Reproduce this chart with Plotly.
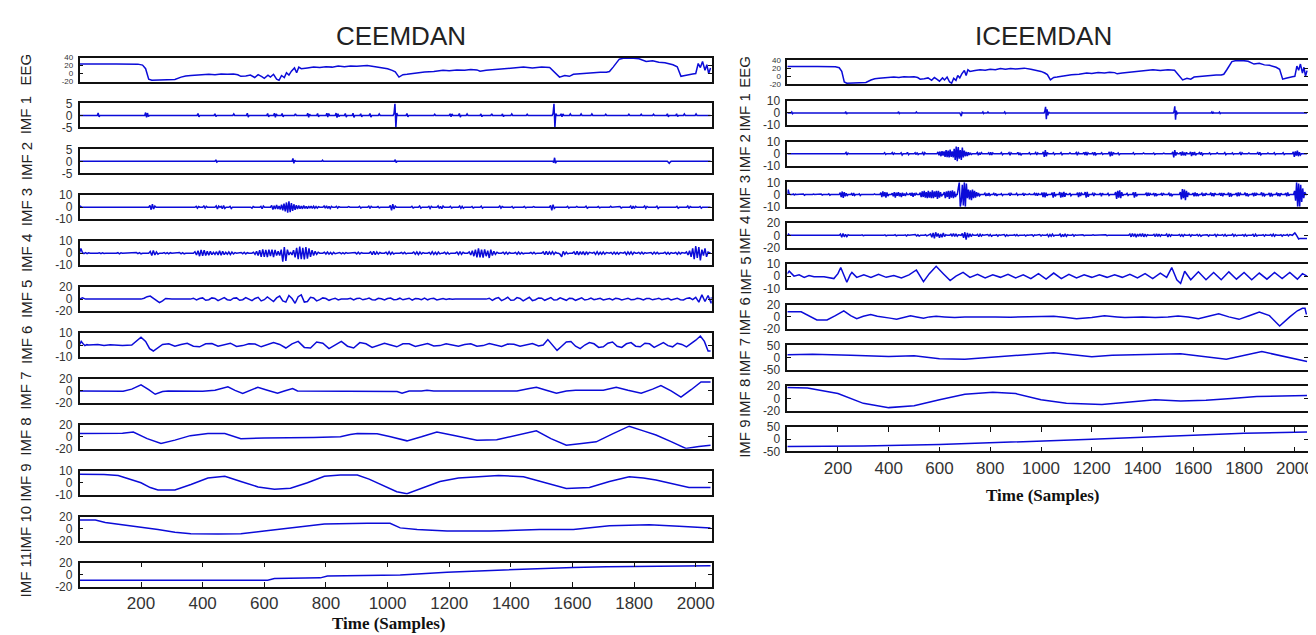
import plotly.graph_objects as go

# ---------------- DATA (sample index, value) ----------------
# Raw EEG, same recording shown in both columns
EEG = [(0,24),(60,24.5),(120,24),(190,23.5),(205,21),(215,12),(225,-14),(235,-17),(260,-16),(290,-16),(310,-15),
       (330,-9),(345,-6),(362,-5),(380,-4),(400,-4),(420,-2),(440,-3),(460,-1),(480,-2),(500,-1),(514,-3),(524,-7),
       (540,-6),(555,-4),(569,-10),(580,-3),(592,-8),(600,-12),(612,-4),(620,-9),(630,-2),(640,-14),(648,-17),(656,-5),
       (665,-10),(672,2),(680,-4),(688,6),(698,14),(705,2),(712,16),(720,12),(740,14),(760,16),(780,15),(800,17),
       (820,16),(840,19),(860,17),(880,19),(900,18),(934,20),(960,17),(980,15),(1000,12),(1015,8),(1025,4),(1037,-9),
       (1050,-3),(1063,-2),(1090,1),(1120,4),(1150,5),(1180,8),(1200,7),(1225,9),(1250,8),(1270,10),(1290,9),(1300,6),
       (1320,8),(1350,10),(1380,11),(1410,13),(1441,16),(1470,14),(1500,16),(1526,15),(1540,5),(1558,-9),(1575,-5),
       (1590,-7),(1603,-2),(1630,0),(1660,1),(1690,3),(1710,3),(1720,5),(1732,16),(1745,30),(1752,36),(1765,38),
       (1790,39),(1816,37),(1830,33),(1839,30),(1860,32),(1880,28),(1900,27),(1926,22),(1940,17),(1952,-7),(1965,-5),
       (1978,-2),(1990,-1),(2000,0),(2008,25),(2015,15),(2022,30),(2030,8),(2036,22),(2042,0),(2048,14)]

# CEEMDAN IMFs: bursts as (start sample, [values every STEP samples]) on a zero baseline
C_IMF1_STEP = 3
C_IMF1 = [(58,[0,1,-0.6,0]),(212,[0,1.2,-0.8,1,-0.5,0]),(382,[0,0.8,-0.6,0]),(437,[0,0.7,-0.5,0]),(498,[0,0.6,0]),
          (542,[0,0.9,-0.7,0]),(608,[0,0.8,-0.6,0]),(630,[0,0.9,-0.8,0.6,0]),(655,[0,0.8,-0.6,0]),(698,[0,0.7,0]),
          (738,[0,0.9,-0.8,0.5,0]),(770,[0,0.8,-0.6,0]),(800,[0,0.9,-0.7,0.8,0]),(830,[0,1,-0.9,0.7,-0.5,0]),
          (860,[0,0.8,-0.7,0]),(885,[0,0.9,-0.8,0]),(910,[0,0.7,-0.6,0]),(940,[0,0.8,-0.7,0]),(970,[0,0.6,0]),
          (1018,[0,0.8,5,-5,1,0]),(1060,[0,0.8,-0.6,0]),(1150,[0,0.5,0]),(1200,[0,0.7,-0.6,0.6,0]),(1230,[0,0.8,-0.7,0]),
          (1255,[0,0.6,0]),(1300,[0,0.6,-0.5,0]),(1335,[0,0.7,0]),(1370,[0,0.6,-0.5,0]),(1400,[0,0.6,0]),(1450,[0,0.5,0]),
          (1534,[0,0.8,5,-5,0.8,0]),(1560,[0,0.7,-0.6,0.6,0]),(1590,[0,0.6,0]),(1625,[0,0.6,0]),(1660,[0,0.6,0]),
          (1705,[0,0.5,0]),(1780,[0,0.5,0]),(1820,[0,0.5,0]),(1860,[0,0.5,0]),(1905,[0,0.7,-0.6,0]),(1935,[0,0.7,-0.5,0]),
          (1960,[0,0.6,0]),(1998,[0,0.6,0])]
C_IMF2_STEP = 3
C_IMF2 = [(440,[0,0.6,-0.3,0]),(690,[0,1.2,-0.8,0.5,0]),(786,[0,0.5,0]),(1022,[0,0.7,-0.5,0]),
          (1536,[0,-0.5,1.5,-0.8,0]),(1908,[0,-0.6,-0.8,-0.3,0])]
C_IMF3_STEP = 4
C_IMF3 = [(0,[0,0.8,0]),(225,[0,1.5,-2,2.5,-1.5,1,0]),(375,[0,0.8,-0.8,0.6,0]),(400,[0,1,-0.7,0.8,0]),
          (440,[0,1.2,-1.5,1,0,0.8,-1.2,1.5,-1,0]),(485,[0,0.8,-1,0]),(556,[0,-0.8,0.6,0]),(585,[0,0.8,-1.2,1,0]),
          (620,[0,1.5,-1.8,1.2,-1.5,2,-1.5,1,-1.8,2.2,-2.5,3,-3.5,4,-4.5,5,-4,3.5,-3,2.5,-2.2,1.8,-1.5,1.5,-1.2,1,
                -1.3,1.5,-1,0.8,-1.2,1,-0.8,1,-1,0.8,-0.8,0.6,-0.7,0.5,0]),
          (790,[0,1,-0.8,1.2,-1,0.8,-1,0.7,0]),(830,[0,0.8,-0.7,0.5,0]),(870,[0,0.5,0]),(905,[0,0.8,-0.6,0]),
          (935,[0,0.9,-1,0.7,0]),(965,[0,0.6,-0.5,0]),(1005,[0,1.5,-2.5,2.5,-1.5,1,0]),(1075,[0,0.8,-0.6,0]),
          (1100,[0,1,-0.8,0]),(1130,[0,0.7,-1,0.8,0]),(1160,[0,1.2,-1,0.8,-1.2,1,0]),(1200,[0,0.8,-0.6,0]),
          (1230,[0,1,-0.9,0.7,-0.8,0]),(1270,[0,0.7,-0.6,0]),(1300,[0,0.9,-0.8,0]),(1330,[0,0.6,0]),
          (1360,[0,1,-0.8,0.6,0]),(1400,[0,0.7,-0.6,0]),(1440,[0,0.6,-0.5,0]),(1470,[0,0.5,0]),(1500,[0,0.6,0]),
          (1525,[0,1.5,-2.5,2.2,-1,0]),(1580,[0,0.8,-0.6,0]),(1610,[0,0.7,0]),(1640,[0,0.9,-0.7,0]),
          (1680,[0,0.6,-0.5,0]),(1720,[0,0.8,0]),(1750,[0,0.6,-0.6,0]),(1785,[0,1,-1.2,0.9,-1,0.8,0]),
          (1830,[0,1,-0.8,0.7,0]),(1870,[0,0.9,-1,0]),(1935,[0,0.8,-0.7,0]),(1970,[0,1,-1,0.6,0]),(2010,[0,0.7,-0.8,0])]
C_IMF4_STEP = 5
C_IMF4 = [(0,[0,4,0.5,-0.3,0.4,-0.4,0.3,0]),(60,[0,0.4,-0.4,0.3,-0.3,0]),(120,[0,0.4,-0.5,0.3,0]),
          (180,[0,0.5,-0.4,0.4,-0.5,0]),(225,[0,1.5,-2,2.2,-1.5,1,-0.8,0]),(270,[0,0.5,-0.4,0.5,-0.6,0.4,0]),
          (320,[0,0.6,-0.5,0.4,-0.5,0]),
          (370,[0,1.2,-1.5,2,-2.5,2.8,-2.2,2.5,-2,1.5,-1.8,1.5,-1.2,0.8,-1,1.2,-1.5,2,-1.8,1.5,-1.2,0.8,-0.8,1,-1.2,
                0.9,-0.7,0.5,0]),
          (520,[0,0.6,-0.5,0.8,-0.6,0.4,0]),
          (560,[0,0.8,-1,1.5,-2,2.5,-3,3.2,-3,2.8,-3.2,3,-2.5,3,-3.2,2.8,-2,1.5,-2,3,-7,5,-6.5,3,-1.5,1,-1.5,2.5,
                -3.5,4.5,-5,5.5,-5,4.5,-5.2,5,-4.5,4,-3,2.5,-2,1.5,-1,0.8,0]),
          (790,[0,0.8,-0.7,1,-0.8,0.6,-0.9,0.7,-0.5,0]),(840,[0,0.6,-0.5,0.4,-0.6,0.5,0]),
          (890,[0,0.5,-0.6,0.8,-0.7,0.5,0]),(940,[0,1,-1.2,1.5,-1.3,1.1,-0.8,0.6,0]),
          (990,[0,0.8,-0.9,1.2,-1,0.8,-0.7,0]),(1040,[0,0.6,-0.5,0.7,-0.6,0]),
          (1080,[0,0.9,-0.8,1,-1.2,0.9,-0.7,0.5,0]),(1130,[0,0.7,-0.9,1.2,-1,0.8,-1.1,0.9,-0.6,0]),
          (1180,[0,0.8,-0.7,0.6,-0.8,0]),(1220,[0,0.9,-1.1,1.3,-1,0.7,0]),
          (1260,[0,1,-1.5,2,-2.5,3,-3.5,4,-3.5,3,-3.8,3.2,-2.5,2,-4,3,-2,1.5,-1,0.8,0]),
          (1370,[0,0.8,-0.7,0.9,-0.8,0.6,0]),(1410,[0,0.7,-0.9,1,-0.8,0.6,-0.5,0]),
          (1460,[0,0.6,-0.5,0.7,-0.6,0]),(1500,[0,1,-1.2,1.5,-1.2,1,-0.8,1.2,-1,0.7,0]),
          (1555,[0,-1,-3,1.5,-1,0.8,-0.6,0]),(1600,[0,1,-1.2,1.5,-1.4,1.2,-1,1.3,-1.5,1.2,-0.9,0.7,0]),
          (1665,[0,0.8,-1,1.2,-1,0.8,-0.9,1,-0.8,0.6,0]),(1720,[0,0.7,-0.8,0.9,-0.7,0.6,-0.8,0.5,0]),
          (1765,[0,0.9,-1.2,1,-0.8,1.1,-1,0.8,0]),(1810,[0,0.7,-0.6,0.8,-0.7,0.5,0]),
          (1850,[0,0.6,-0.8,0.9,-0.6,0.7,-0.5,0]),(1895,[0,0.8,-0.7,0.6,-0.8,0.5,0]),
          (1930,[0,0.7,-0.9,0.8,-0.6,0.5,0]),(1965,[0,1,-1.5,2,-3,4,-5,6,-4,5,-6,3,-2,4,-3,1,0])]
C_IMF5_STEP = 10
C_IMF5 = [(0,[0,2,0]),
          (200,[0,1.5,4,5,1,-3,-6,-3,1,0.5,0]),
          (360,[0,1.5,-1.5,1,2,-2,-1,2,1,-2.5,0,2.5,-1,-2,1.5,2,-2,-1,2.5,0.5,-2.5,1,3,-3,-1,3.5,0,-4,2,5,-3,-5,6,
                1,-7,4,7,-5,-4,3,2,-3,-1,2,1,-2,0,1.5,-1.5,0]),
          (870,[0,1.2,-1.5,1,1.5,-1.2,0,1.8,-1,-1.5,1.2,0.5,-1.5,1,1.8,-1,-0.5,1.5,-1.2,0,1.5,-1.8,1,0.5,-1,1.5,
                -1.2,0.8,1.2,-1.5,0,1,-0.8,0.5,-0.3,0]),
          (1320,[0,1.5,-2,1,2.5,-2.5,0,3,-2,-1.5,2.5,1,-3,0,3,-2.5,-1,2,1.5,-2,0,2.5,-1.5,-1,2,0.5,-2,1.5,1,-2,0,
                 2,-1.5,-0.5,1.8,-1,0,1.2,-1.5]),
          (1710,[0,1,-1.5,1.2,0.5,-1.5,0,1.5,-1,-0.8,1.2,0.5,-1.5,0.8,1,-1.2,0,1.5,-1,-0.5,1.2,-1.5,0.5,1.5,-1,
                 -1.5,1.2,2,-1,3,-5,7,-4,6,-7,5,-3,2])]
C_IMF6 = [(0,0),(6,3),(12,1),(18,-0.5),(24,0.3),(30,0),(60,0.5),(80,-0.3),(100,0.3),(120,0),(140,-0.5),(170,0),
          (185,3),(200,6.5),(215,3),(228,-3),(240,-5),(255,-2),(270,0.5),(290,1),(310,-1),(330,0.5),(350,1.5),
          (370,-1),(390,-1.5),(410,1),(430,1.2),(450,-1),(470,0),(490,1.5),(510,-1.2),(530,-0.5),(550,1),(570,0.8),
          (590,-1.5),(610,0),(630,2),(650,0.5),(670,-2.5),(690,1),(710,3),(730,-2),(750,-2.5),(770,2.5),(790,1.5),
          (810,-3),(830,0),(850,3),(870,-1),(890,-2.5),(910,2),(930,1),(950,-2),(970,-0.5),(990,1.5),(1010,0),
          (1030,-1.5),(1050,1),(1070,1),(1090,-1.2),(1110,0),(1130,1.2),(1150,-0.8),(1170,-0.5),(1190,1),(1210,0.3),
          (1230,-1),(1250,0.5),(1270,1),(1290,-1),(1310,-0.5),(1330,1.2),(1350,0),(1370,-1.2),(1390,0.8),(1410,0.6),
          (1430,-1),(1450,0),(1470,1.2),(1490,-0.8),(1505,0),(1520,4.5),(1535,0),(1550,-4.5),(1565,-1),(1580,2.5),
          (1595,3),(1610,-1),(1625,-3),(1640,0),(1655,2),(1670,1),(1685,-2),(1700,-1.5),(1715,1.5),(1730,2.5),
          (1745,-1),(1760,-2),(1775,1),(1790,2),(1805,-1),(1820,-1.5),(1835,1.5),(1850,1),(1865,-2),(1880,0),
          (1895,2),(1910,-0.5),(1925,-1.5),(1940,1.5),(1955,0.5),(1970,-1.5),(1985,1),(2000,4),(2015,7.5),
          (2028,3),(2040,-5),(2048,-5)]
C_IMF7 = [(0,0),(60,0),(94,-1),(142,-0.5),(170,3),(200,10),(225,2),(246,-5.6),(270,-1),(288,0),(400,-0.5),
          (440,1),(482,7),(505,1),(530,-4),(555,1),(579,6),(610,1),(643,-4),(665,0),(692,4),(708,0),(940,0),
          (957,-1),(975,0),(1010,0),(1031,-1),(1047,-4),(1070,0),(1110,0),(1128,1),(1150,0),(1420,0),(1460,4),
          (1483,6),(1515,1),(1548,-4),(1580,0),(1610,1),(1700,1),(1742,6),(1780,1),(1823,-4),(1860,3),(1887,9),
          (1920,0),(1952,-10.4),(1985,2),(2017,15),(2048,15)]
C_IMF8 = [(0,5.5),(100,5.5),(140,6),(175,8),(220,-3),(265,-11),(310,-5.5),(360,2),(417,5.5),(472,5.5),(524,-3),
          (600,-2),(685,-2),(760,-1),(847,0),(879,4),(902,5.5),(966,5),(1010,0),(1063,-6.7),(1110,0),(1160,8),
          (1220,2),(1290,-5.5),(1354,-5),(1420,3),(1483,10),(1530,-3),(1580,-13.9),(1630,-11),(1677,-8.3),
          (1730,5),(1784,17.8),(1830,10),(1871,3),(1920,-8),(1968,-19.4),(2010,-16),(2048,-13.9)]
C_IMF9 = [(0,7),(80,6.8),(126,6),(160,3),(200,0),(230,-4),(255,-6),(310,-6),(362,-1.5),(417,4),(472,5.4),
          (524,1),(580,-3.5),(633,-5.4),(685,-4.6),(740,0),(795,5.4),(847,6.5),(902,6.5),(940,3),(989,-3),
          (1030,-7.5),(1063,-9.2),(1110,-5),(1170,1),(1230,4),(1280,5),(1360,6),(1441,5),(1510,0),(1580,-4.8),
          (1655,-4),(1720,1),(1784,5),(1830,4),(1871,2.3),(1930,-1.5),(1978,-4),(2048,-4)]
C_IMF10 = [(0,14.6),(52,14.6),(84,10.4),(170,5),(255,-1.4),(310,-6),(362,-8.3),(450,-9),(524,-8.3),(600,-4),
           (685,1.3),(740,5),(795,7.7),(934,9),(1008,9),(1041,1.3),(1096,-1.4),(1193,-4),(1332,-4),(1493,-1.4),
           (1603,-1.4),(1720,5),(1849,6.4),(1946,4),(2048,1.3)]
C_IMF11 = [(0,-9.3),(611,-9.3),(633,-6.7),(782,-5.5),(805,-2.4),(934,-1.3),(1041,-0.5),(1193,4),(1322,6.7),
           (1493,9.3),(1603,12),(1710,13),(2048,14.7)]

# ICEEMDAN IMFs
I_IMF1_STEP = 3
I_IMF1 = [(15,[0,0.8,-0.6,0]),(228,[0,1,-0.8,0]),(436,[0,1,-0.5,0]),(506,[0,0.8,0]),(680,[0,-1.5,-2.5,0.5,0]),
          (768,[0,0.8,-0.5,0]),(788,[0,0.8,0]),(854,[0,0.8,-0.5,0]),(1012,[0,1.5,5,-5,3,-2,0.8,0]),
          (1219,[0,0.6,0]),(1368,[0,0.6,0]),(1521,[0,1,5.5,-5.5,2,-1,0]),(1670,[0,0.8,-0.6,0.5,0]),
          (1700,[0,0.7,-0.5,0]),(2021,[0,0.6,0])]
I_IMF2_STEP = 4
I_IMF2 = [(228,[0,1,-1,0.5,0]),(380,[0,0.8,-0.6,0]),(410,[0,1,-0.8,0.6,0]),(445,[0,0.8,-1,0]),(470,[0,1.2,-0.8,0]),
          (500,[0,0.8,-0.6,1,-0.7,0]),(530,[0,1,-1.2,0.9,0]),
          (590,[0,1.5,-1.2,1.8,-2,2.2,-1.5,2,-2.5,3,-2.8,2.5,-3,3.5,-2.5,2,-3,4,-5,6,-6,5.5,-4,3,-5,5,-3,2.5,-2,1.5,
                -1.8,1.2,-1,0.8,-0.6,0]),
          (745,[0,1,-1.2,0.9,-0.8,1,0]),(790,[0,0.8,-1,1.2,-0.9,0.7,0]),(840,[0,1,-0.8,0]),(870,[0,0.9,-1.1,0.8,0]),
          (905,[0,1.2,-1,0.8,-1.2,0]),(950,[0,0.8,-0.6,0]),(975,[0,1,-1,0.7,0]),(1005,[0,1.5,-2.5,3,-2,1,0]),
          (1045,[0,0.8,-0.7,0]),(1075,[0,1,-0.8,0]),(1110,[0,0.8,0]),(1135,[0,1,-1.2,0.9,0]),
          (1165,[0,1.2,-1,1.5,-1.2,0.8,0]),(1200,[0,1,-1.3,1.2,-0.9,0]),(1235,[0,0.8,-0.6,0]),
          (1265,[0,1.5,-2,1.8,-1.5,1,0]),(1300,[0,0.7,-0.8,0]),(1330,[0,0.6,0]),(1360,[0,0.8,-0.6,0]),
          (1400,[0,0.7,0]),(1440,[0,0.6,-0.5,0]),(1480,[0,0.5,0]),(1515,[0,1.5,-3,3,-1.5,1,0]),
          (1545,[0,1.2,-1.5,1.8,-1.2,1,-1.5,1.2,0]),(1585,[0,1.5,-1.8,1.2,-1,1.5,-1.2,0]),(1620,[0,1,-0.8,1.2,-1,0]),
          (1660,[0,0.7,-0.6,0]),(1690,[0,0.8,0]),(1720,[0,0.9,-0.8,0]),(1750,[0,0.7,-0.6,0]),(1780,[0,1,-0.9,0.8,0]),
          (1815,[0,0.7,0]),(1850,[0,1,-0.8,1.2,-0.9,0]),(1890,[0,0.6,0]),(1915,[0,0.8,-0.7,0]),(1950,[0,0.9,-0.7,0]),
          (1990,[0,1.5,-2.5,2,-1.5,2.5,-2,1.2,-1,0])]
I_IMF3_STEP = 4
I_IMF3 = [(0,[0,4,0.5,0]),(20,[0,0.5,-0.4,0.3,0]),(60,[0,0.5,-0.5,0]),(100,[0,0.4,0]),(130,[0,0.5,-0.4,0]),
          (160,[0,0.6,-0.5,0]),(205,[0,1.5,-2,2.5,-2.8,2,-1.5,1,-0.8,0]),(250,[0,0.8,-1,1.2,-0.8,0]),
          (280,[0,0.6,-0.8,0]),(340,[0,0.5,0]),(365,[0,1.5,-2,2.5,-1.5,2,-2.5,1.8,-1.2,0]),
          (410,[0,1,-1.5,2,-2.5,1.5,-1,2,-1.5,1.2,-2,1.5,-1,0.8,-1.2,1,0]),(480,[0,1.2,-1,1.5,-1.8,1.2,-0.8,1,0]),
          (520,[0,1.5,-2,2.5,-2,3,-2.5,2,-3,3,-2.5,2.2,-3,3.5,-3,2.5,-2,3,-3.5,3,-2.5,2,-1.5,0]),
          (615,[0,2,-3,2.5,-2,3,-3.5,3,-2.5,3.5,-3,2.5,-2,0]),
          (670,[0,5,10,-10,-5,8,-9,10,-10,9,-3,4,-4,3.5,-4.5,4,-3,3,-2.5,2,-1.5,1.2,-1,0]),
          (775,[0,1,-1.2,0.8,-1,1.2,-0.8,0]),(810,[0,1,-0.8,0.9,-1.1,0]),(840,[0,0.7,-0.8,0]),(870,[0,0.8,-1,0.9,0]),
          (900,[0,1,-0.7,0]),(925,[0,0.8,-0.9,0.6,0]),(950,[0,0.7,0]),(970,[0,1,-0.8,1.2,-1,0.7,0]),
          (1000,[0,1.5,-2,1.8,-2.2,1.5,-1,0]),(1040,[0,1.5,-2.5,2,-1.5,0]),(1070,[0,2,-2.5,1.5,-2,2.2,-1.8,1,0]),
          (1110,[0,1.2,-1,0]),(1140,[0,1.5,-2,1.8,-1.2,1,0]),(1170,[0,2,-2.5,2.2,-1.8,0]),(1200,[0,1,-1.2,0.8,0]),
          (1230,[0,1.2,-1.5,1,0]),(1260,[0,1,-0.8,0]),(1290,[0,2,-3.5,3,-2.5,3.5,-3,2,-1,0]),(1335,[0,1,-0.8,0]),
          (1360,[0,1.8,-2.5,2,-1.5,0]),(1410,[0,1,-1.2,1.5,-1,0.8,0]),(1440,[0,1.2,-1.5,1,-0.8,0]),
          (1470,[0,0.8,-1,1.2,0]),(1500,[0,1,-1.2,0.9,-1,0]),(1545,[0,2,-4,4.5,-3,4,-4.5,3,-2,1.5,0]),
          (1595,[0,1.2,-1.5,1.8,-1.3,1,-1.2,0]),(1630,[0,1,-1.2,0.8,-1,1.2,0]),(1665,[0,1.5,-1.2,1,-1.4,1.2,0]),
          (1700,[0,1.2,-1,1.3,-1.5,1,0]),(1735,[0,1.5,-1.8,1.2,-1,0]),(1765,[0,1.2,-1.5,1.8,-1.2,1,0]),
          (1800,[0,1.6,-1.2,1,-1.5,0]),(1830,[0,1.2,-1.4,1.5,-1,0.8,0]),(1865,[0,1.8,-1.5,1.2,-1,0]),
          (1895,[0,1.3,-1.6,1.2,-1,0]),(1925,[0,1.5,-1.2,1,-1.3,1.1,0]),(1960,[0,1.2,-1.5,1.8,-1,0]),
          (1995,[0,3,-5,10,-10,9,-10,8,-6,5,-3,2,0])]
I_IMF4_STEP = 5
I_IMF4 = [(0,[0,2,0]),(205,[0,2,-3,3,-2.5,1.5,-2,1,0]),(290,[0,0.8,-0.6,0]),(330,[0,0.6,0]),(380,[0,0.8,-0.8,0]),
          (420,[0,1,-0.8,0]),(460,[0,0.9,-1,0.7,0]),(500,[0,1.2,-1,0.8,-1.2,0]),(540,[0,1,-0.8,0]),
          (560,[0,2,-3,4,-5,5,-2,3,-4,2,-3,4,-2,1,0]),(640,[0,2,-1.5,3,-2,2.5,-1.5,1,0]),
          (685,[0,3,-4,5,-7,4,-3,2.5,-2,1.5,0]),(745,[0,1.5,-2,1.8,-1.2,1,0]),(785,[0,1.2,-1,1.5,-1.3,0]),
          (820,[0,1,-1.2,0.8,0]),(850,[0,1.2,-1.5,1,-0.8,0]),(890,[0,1,-0.8,1.2,-1,0]),(930,[0,0.8,-1,0.6,0]),
          (960,[0,1,-1.2,0.9,0]),(990,[0,1.2,-1,0.8,0]),(1020,[0,1.5,-2,1.2,-1.5,2,-1,0]),
          (1070,[0,2,-2.5,1.5,-2,2.5,-1.8,1,0]),(1120,[0,1.5,-1.2,0.8,0]),(1160,[0,0.8,-0.6,0]),(1200,[0,0.7,0]),
          (1250,[0,0.8,-0.6,0]),(1300,[0,0.6,0]),(1345,[0,2,-2.5,3,-2,2.5,-3,2,-1.5,2.5,-2,3,-2.5,2,-1.5,1,0]),
          (1440,[0,1.5,-2,2.5,-1.8,2,-1.5,1,0]),(1490,[0,2,-2.5,2,-1.5,1,0]),(1540,[0,1.5,-1.2,1,-1.5,1.2,0]),
          (1580,[0,1.2,-1.5,1,0]),(1610,[0,1.5,-1,1.2,-1.4,0]),(1650,[0,1,-1.2,0.8,0]),(1680,[0,1.5,-1.8,1.2,0]),
          (1710,[0,1.2,-1,1.5,-1.2,0]),(1750,[0,1.8,-1.5,1.2,-1,0]),(1790,[0,1,-1.2,1.5,-1,0]),
          (1830,[0,1.5,-2,1.8,-1,0]),(1870,[0,1.2,-1.4,1,0]),(1900,[0,1.5,-1.2,1.8,-1.5,1,0]),
          (1940,[0,1,-1.2,0.8,0]),(1965,[0,1.5,-1,1.2,0]),(1990,[0,2,4,1,-3,-6,-5,-5,-5,-5])]
I_IMF5 = [(0,2),(8,4),(27,0),(47,1),(67,-1),(86,0.5),(106,-0.5),(145,-0.5),(184,-2),(200,2),(211,7),(222,2),
          (235,-5),(248,1),(255,3),(274,-1),(302,1),(330,-1),(360,1.5),(390,-1),(420,0.5),(450,-1.5),(480,1),
          (509,5),(537,-4.6),(560,2),(587,8),(615,2),(642,-3.6),(665,0),(693,3),(720,-1),(750,1.5),(780,-1.5),
          (810,1),(840,-1),(870,1.5),(900,-1.5),(930,1),(960,-2),(990,2),(1020,-2.5),(1050,2.5),(1080,-2),
          (1110,1.5),(1140,-1.5),(1170,1),(1200,-1),(1230,1),(1260,-1),(1290,1),(1320,-1),(1350,1.5),(1380,-1.5),
          (1410,2),(1440,-2),(1470,2.5),(1495,-1),(1515,7),(1535,-3),(1550,-6),(1566,4),(1590,-3),(1620,3.5),
          (1650,-3),(1680,3),(1710,-3),(1740,3.5),(1770,-2.5),(1800,3),(1830,-3),(1860,2.5),(1890,-2.5),
          (1920,3),(1950,-2),(1980,3),(2010,-2.5),(2030,2),(2048,0)]
I_IMF6 = [(0,8.3),(55,8.3),(117,-5),(157,-5),(190,2),(223,10),(250,2),(274,-3),(300,1),(329,4),(355,1),(380,0),
          (405,-2),(431,-4),(460,-1),(486,2),(510,0),(537,-2),(560,0),(587,1),(620,0),(660,-1),(700,0),(760,0.5),
          (820,0),(880,-0.5),(940,0),(985,0.5),(1010,0),(1050,1),(1100,-1),(1140,-3),(1200,-1),(1250,2),(1300,0),
          (1330,-1),(1400,0),(1450,-1),(1500,0),(1540,1.5),(1580,0),(1620,-3),(1660,1),(1700,5),(1740,0),
          (1780,-4),(1820,2),(1860,8),(1900,2),(1940,-15),(1980,0),(2010,10),(2030,14),(2040,14),(2045,5),(2048,5)]
I_IMF7 = [(0,12),(100,14),(250,10),(400,5),(500,8),(600,-4),(700,-6),(850,4),(1050,20),(1200,4),(1280,10),
          (1550,16),(1730,-6),(1870,25),(1980,0),(2048,-16)]
I_IMF8 = [(0,18),(80,17),(200,8),(300,-8),(400,-15),(500,-12),(600,-2),(700,7),(810,10),(900,8),(1000,-2),
          (1100,-8),(1240,-10),(1350,-6),(1450,-2),(1550,-4),(1650,-3),(1750,0),(1850,3),(1950,4),(2048,5)]
I_IMF9 = [(0,-30),(300,-28),(600,-22),(900,-12),(1200,0),(1500,12),(1800,24),(2048,30)]

X_TICKS = [200, 400, 600, 800, 1000, 1200, 1400, 1600, 1800, 2000]
N_SAMPLES = 2048


# ---------------- helpers ----------------
def from_bursts(segs, step):
    xs, ys = [0], [0]
    for start, vals in segs:
        for k, v in enumerate(vals):
            xs.append(start + k * step)
            ys.append(v)
    xs.append(N_SAMPLES)
    ys.append(ys[-1])
    return xs, ys


def from_knots(kn):
    return [p[0] for p in kn], [p[1] for p in kn]


left_panels = [
    ("EEG", from_knots(EEG), 40, -20, [-20, 0, 20, 40]),
    ("IMF 1", from_bursts(C_IMF1, C_IMF1_STEP), 5, -5, [-5, 0, 5]),
    ("IMF 2", from_bursts(C_IMF2, C_IMF2_STEP), 5, -5, [-5, 0, 5]),
    ("IMF 3", from_bursts(C_IMF3, C_IMF3_STEP), 10, -10, [-10, 0, 10]),
    ("IMF 4", from_bursts(C_IMF4, C_IMF4_STEP), 10, -10, [-10, 0, 10]),
    ("IMF 5", from_bursts(C_IMF5, C_IMF5_STEP), 20, -20, [-20, 0, 20]),
    ("IMF 6", from_knots(C_IMF6), 10, -10, [-10, 0, 10]),
    ("IMF 7", from_knots(C_IMF7), 20, -20, [-20, 0, 20]),
    ("IMF 8", from_knots(C_IMF8), 20, -20, [-20, 0, 20]),
    ("IMF 9", from_knots(C_IMF9), 10, -10, [-10, 0, 10]),
    ("IMF 10", from_knots(C_IMF10), 20, -20, [-20, 0, 20]),
    ("IMF 11", from_knots(C_IMF11), 20, -20, [-20, 0, 20]),
]
right_panels = [
    ("EEG", from_knots(EEG), 40, -20, [-20, 0, 20, 40]),
    ("IMF 1", from_bursts(I_IMF1, I_IMF1_STEP), 10, -10, [-10, 0, 10]),
    ("IMF 2", from_bursts(I_IMF2, I_IMF2_STEP), 10, -10, [-10, 0, 10]),
    ("IMF 3", from_bursts(I_IMF3, I_IMF3_STEP), 10, -10, [-10, 0, 10]),
    ("IMF 4", from_bursts(I_IMF4, I_IMF4_STEP), 20, -20, [-20, 0, 20]),
    ("IMF 5", from_knots(I_IMF5), 10, -10, [-10, 0, 10]),
    ("IMF 6", from_knots(I_IMF6), 20, -20, [-20, 0, 20]),
    ("IMF 7", from_knots(I_IMF7), 50, -50, [-50, 0, 50]),
    ("IMF 8", from_knots(I_IMF8), 20, -20, [-20, 0, 20]),
    ("IMF 9", from_knots(I_IMF9), 50, -50, [-50, 0, 50]),
]

W, H = 1316, 635
LINE_COLOR = "#0b0bd8"
TICK_FONT = dict(family="Liberation Sans, Arial, sans-serif", size=12, color="#333333")
EEG_TICK_FONT = dict(family="Liberation Sans, Arial, sans-serif", size=8, color="#333333")

fig = go.Figure()
layout = dict(width=W, height=H, margin=dict(l=0, r=0, t=0, b=0),
              paper_bgcolor="white", plot_bgcolor="white", showlegend=False, annotations=[])

columns = [
    dict(panels=left_panels, xl=72, xr=707, top0=43.5, gap=46.95, h=24.5, label_x=18,
         title="CEEMDAN", title_x=395, xlabel_y=622, xlabel_x=383),
    dict(panels=right_panels, xl=783, xr=1306, top0=46, gap=41.7, h=25, label_x=740,
         title="ICEEMDAN", title_x=1040, xlabel_y=491, xlabel_x=1040),
]

n = 0
for col in columns:
    panels = col["panels"]
    for i, (label, (xs, ys), ymax, ymin, yt) in enumerate(panels):
        n += 1
        sfx = "" if n == 1 else str(n)
        top = col["top0"] + col["gap"] * i
        bot = top + col["h"]
        last = (i == len(panels) - 1)
        fig.add_trace(go.Scatter(x=xs, y=ys, mode="lines", line=dict(color=LINE_COLOR, width=1.5),
                                 xaxis="x" + sfx, yaxis="y" + sfx, hoverinfo="skip"))
        layout["xaxis" + sfx] = dict(
            domain=[col["xl"] / W, col["xr"] / W], anchor="y" + sfx, range=[1, 2052],
            showgrid=False, zeroline=False, showline=True, linecolor="#111111", linewidth=1.6,
            mirror="ticks" if last else True,
            ticks="inside" if last else "", ticklen=5, tickwidth=1.3, tickcolor="#111111",
            tickvals=X_TICKS if last else [], showticklabels=last,
            tickfont=dict(family="Liberation Sans, Arial, sans-serif", size=17, color="#333333"))
        layout["yaxis" + sfx] = dict(
            domain=[1 - bot / H, 1 - top / H], anchor="x" + sfx, range=[ymin, ymax],
            showgrid=False, zeroline=False, showline=True, linecolor="#111111", linewidth=1.6,
            mirror="ticks", ticks="inside", ticklen=4, tickwidth=1.2, tickcolor="#111111",
            tickvals=yt, ticktext=[str(v) for v in yt],
            tickfont=EEG_TICK_FONT if label == "EEG" else TICK_FONT, ticklabelstandoff=3)
        layout["annotations"].append(dict(
            text=label, x=col["label_x"] / W, y=1 - (top + bot) / 2 / H, xref="paper", yref="paper",
            textangle=-90, showarrow=False, xanchor="center", yanchor="middle",
            font=dict(family="Liberation Sans, Arial, sans-serif", size=15, color="#222222")))
    layout["annotations"].append(dict(
        text=col["title"], x=col["title_x"] / W, y=1 - 21 / H, xref="paper", yref="paper", showarrow=False,
        xanchor="center", yanchor="middle",
        font=dict(family="Liberation Sans, Arial, sans-serif", size=26, color="#222222")))
    layout["annotations"].append(dict(
        text="<b>Time (Samples)</b>", x=col["xlabel_x"] / W, y=1 - col["xlabel_y"] / H, xref="paper",
        yref="paper", showarrow=False, xanchor="center", yanchor="middle",
        font=dict(family="Liberation Serif, Times New Roman, serif", size=17, color="#111111")))

fig.update_layout(**layout)
fig.write_html("out.html")
